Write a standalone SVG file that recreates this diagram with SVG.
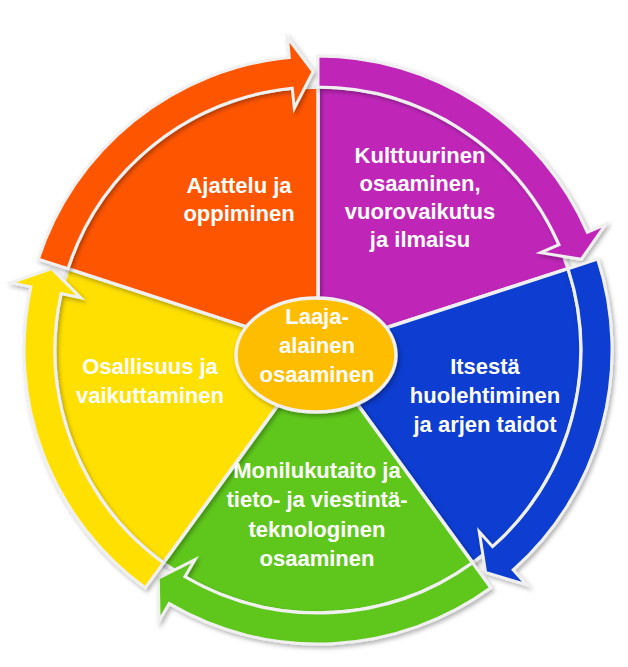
<svg xmlns="http://www.w3.org/2000/svg" width="628" height="667" viewBox="0 0 628 667">
  <defs>
    <filter id="sh" x="-10%" y="-10%" width="120%" height="120%">
      <feDropShadow dx="2" dy="2.5" stdDeviation="2" flood-color="#000" flood-opacity="0.3"/>
    </filter>
  </defs>
  <style>
    .sl { stroke: #f0f0f0; stroke-width: 3.5; stroke-linejoin: round; filter: url(#sh); }
    .ar { stroke: #f0f0f0; stroke-width: 3; stroke-linejoin: miter; filter: url(#sh); }
    .t { font-family: "Liberation Sans", Arial, sans-serif; font-weight: bold; font-size: 22px; fill: #ffffff; text-anchor: middle; }
    .orange { fill: #FE5400; }
    .purple { fill: #BF25B8; }
    .blue { fill: #073DD1; }
    .green { fill: #5EC71B; }
    .yellow { fill: #FFE000; }
  </style>
  <rect width="628" height="667" fill="#ffffff"/>

  <g id="purple-node">
    <path class="sl purple" d="M318,350 L318,87 A263,263 0 0 1 568.1,268.7 Z"/>
  </g>
  <g id="blue-node">
    <path class="sl blue" d="M318,350 L568.1,268.7 A263,263 0 0 1 472.6,562.8 Z"/>
  </g>
  <g id="green-node">
    <path class="sl green" d="M318,350 L472.6,562.8 A263,263 0 0 1 163.4,562.8 Z"/>
  </g>
  <g id="yellow-node">
    <path class="sl yellow" d="M318,350 L163.4,562.8 A263,263 0 0 1 67.9,268.7 Z"/>
  </g>
  <g id="orange-node">
    <path class="sl orange" d="M318,350 L67.9,268.7 A263,263 0 0 1 318,87 Z"/>
  </g>

  <g id="connectors">
    <path class="ar purple" d="M318,56 A294,294 0 0 1 587.4,232.3 L605.7,224.3 L581.3,259.3 L540.7,252.7 L559.0,244.7 A263,263 0 0 0 318,87 Z"/>
    <path class="ar blue" d="M597.6,259.1 A294,294 0 0 1 513.2,569.9 L526.5,584.8 L485.6,572.4 L479.3,531.7 L492.6,546.7 A263,263 0 0 0 568.1,268.7 Z"/>
    <path class="ar green" d="M490.8,587.8 A294,294 0 0 1 169.2,603.6 L159.1,620.8 L158.3,578.1 L195.0,559.6 L184.9,576.8 A263,263 0 0 0 472.6,562.8 Z"/>
    <path class="ar yellow" d="M145.2,587.8 A294,294 0 0 1 30.9,286.9 L11.3,282.6 L51.7,268.6 L80.7,297.8 L61.1,293.5 A263,263 0 0 0 163.4,562.8 Z"/>
    <path class="ar orange" d="M38.4,259.1 A294,294 0 0 1 289.3,57.4 L287.4,37.5 L313.1,71.5 L294.3,108.2 L292.3,88.3 A263,263 0 0 0 67.9,268.7 Z"/>
  </g>

  <g id="center-node">
    <ellipse cx="316" cy="355" rx="80" ry="57" fill="#FFBD00" stroke="#f0f0f0" stroke-width="3.5" filter="url(#sh)"/>
    <text class="t" x="317" y="324">Laaja-</text>
    <text class="t" x="317" y="353">alainen</text>
    <text class="t" x="317" y="382">osaaminen</text>
  </g>

  <g id="orange-label">
    <text class="t" x="239" y="193">Ajattelu ja</text>
    <text class="t" x="239" y="221">oppiminen</text>
  </g>
  <g id="purple-label">
    <text class="t" x="420" y="163">Kulttuurinen</text>
    <text class="t" x="420" y="191">osaaminen,</text>
    <text class="t" x="420" y="219">vuorovaikutus</text>
    <text class="t" x="420" y="247">ja ilmaisu</text>
  </g>
  <g id="blue-label">
    <text class="t" x="485" y="374">Itsestä</text>
    <text class="t" x="485" y="403">huolehtiminen</text>
    <text class="t" x="485" y="432">ja arjen taidot</text>
  </g>
  <g id="yellow-label">
    <text class="t" x="150" y="374">Osallisuus ja</text>
    <text class="t" x="150" y="403">vaikuttaminen</text>
  </g>
  <g id="green-label">
    <text class="t" x="317" y="478">Monilukutaito ja</text>
    <text class="t" x="317" y="507">tieto- ja viestintä-</text>
    <text class="t" x="317" y="537">teknologinen</text>
    <text class="t" x="317" y="566">osaaminen</text>
  </g>
</svg>
